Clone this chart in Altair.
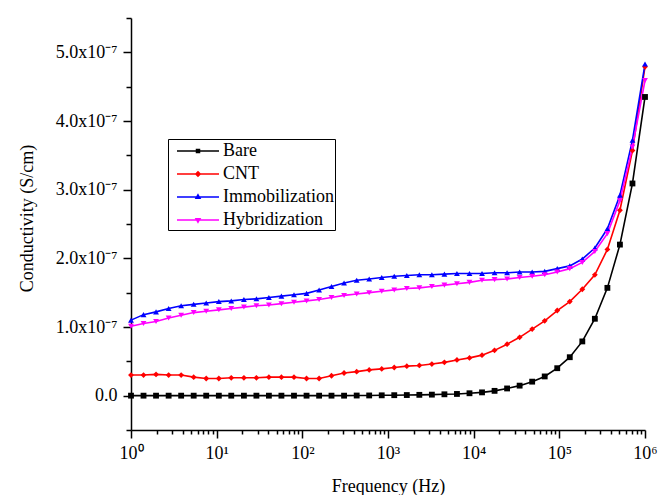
import altair as alt
import pandas as pd

series_names = ["Bare", "CNT", "Immobilization", "Hybridization"]
series_colors = ["#000000", "#FF0000", "#0000FF", "#FF00FF"]
marker_shapes = ["square", "diamond", "triangle-up", "triangle-down"]
# legend symbols: line segment plus a (nested, so it reads as filled) marker
legend_paths = [
    "M-2.1,0H2.1M-0.15,-0.15H0.15V0.15H-0.15ZM-0.07,-0.07H0.07V0.07H-0.07Z",
    "M-2.1,0H2.1M0,-0.22L0.22,0L0,0.22L-0.22,0ZM0,-0.1L0.1,0L0,0.1L-0.1,0Z",
    "M-2.1,0H2.1M0,-0.22L0.2,0.13L-0.2,0.13ZM0,-0.08L0.08,0.07L-0.08,0.07Z",
    "M-2.1,0H2.1M0,0.22L0.2,-0.13L-0.2,-0.13ZM0,0.08L0.08,-0.07L-0.08,-0.07Z",
]

frequency_hz = [1, 1.40, 1.96, 2.75, 3.85, 5.39, 7.55, 10.6, 14.8, 20.8, 29.1, 40.7,
                57.0, 79.9, 112, 157, 219, 307, 431, 603, 845, 1183, 1658, 2322, 3252,
                4555, 6380, 8937, 12518, 17534, 24559, 34400, 48184, 67490, 94534,
                132414, 185472, 259790, 363886, 509693, 713920, 1000000]

# conductivity in units of 1e-7 S/cm
bare = [0.0] * 18 + [0.002, 0.003, 0.005, 0.007, 0.009, 0.012, 0.015, 0.02, 0.025, 0.035,
                     0.048, 0.07, 0.105, 0.146, 0.204, 0.28, 0.40, 0.56, 0.79, 1.12, 1.57,
                     2.20, 3.09, 4.35]
cnt = [0.30, 0.30, 0.31, 0.30, 0.30, 0.27, 0.25, 0.25, 0.26, 0.26, 0.26, 0.27, 0.27, 0.27,
       0.25, 0.25, 0.29, 0.33, 0.35, 0.375, 0.39, 0.41, 0.43, 0.44, 0.46, 0.485, 0.52, 0.55,
       0.59, 0.66, 0.75, 0.85, 0.97, 1.09, 1.24, 1.37, 1.55, 1.76, 2.13, 2.70, 3.57, 4.79]
immobilization = [1.10, 1.18, 1.22, 1.27, 1.31, 1.33, 1.35, 1.37, 1.38, 1.40, 1.41, 1.43, 1.45, 1.47,
                  1.49, 1.54, 1.59, 1.64, 1.68, 1.70, 1.72, 1.74, 1.75, 1.76, 1.76, 1.77, 1.78, 1.78,
                  1.78, 1.79, 1.79, 1.80, 1.80, 1.81, 1.85, 1.89, 1.99, 2.15, 2.43, 2.92, 3.72, 4.83]
hybridization = [1.01, 1.05, 1.08, 1.13, 1.17, 1.21, 1.23, 1.25, 1.27, 1.29, 1.31, 1.32, 1.34, 1.36,
                 1.38, 1.40, 1.43, 1.46, 1.48, 1.50, 1.52, 1.54, 1.56, 1.57, 1.59, 1.61, 1.63, 1.65,
                 1.68, 1.69, 1.70, 1.72, 1.74, 1.76, 1.80, 1.85, 1.94, 2.10, 2.36, 2.84, 3.62, 4.59]

x_major_values = [1, 10, 100, 1000, 10000, 100000, 1000000]
x_major_labels = ["10⁰", "10¹", "10²", "10³", "10⁴", "10⁵", "10⁶"]
x_tick_values = [m * 10 ** d for d in range(6) for m in range(1, 10)] + [1000000]

y_major_values = [0, 1, 2, 3, 4, 5]
y_major_labels = ["0.0", "1.0x10⁻⁷", "2.0x10⁻⁷", "3.0x10⁻⁷", "4.0x10⁻⁷", "5.0x10⁻⁷"]
y_tick_values = [v / 2 for v in range(-1, 12)]

rows = []
for name, vals in zip(series_names, [bare, cnt, immobilization, hybridization]):
    for f, v in zip(frequency_hz, vals):
        rows.append({"Frequency": f, "Conductivity": v, "Series": name})
df = pd.DataFrame(rows)


def label_expr(values, labels):
    expr = "''"
    for v, l in reversed(list(zip(values, labels))):
        expr = f"datum.value == {v} ? '{l}' : ({expr})"
    return expr


FONT = "Liberation Serif"

x_enc = alt.X(
    "Frequency:Q",
    scale=alt.Scale(type="log", domain=[1, 1000000], nice=False),
    axis=alt.Axis(
        title="Frequency (Hz)",
        grid=False,
        values=x_tick_values,
        labelExpr=label_expr(x_major_values, x_major_labels),
        tickSize={"condition": {"test": f"indexof({x_major_values}, datum.value) >= 0", "value": 8}, "value": 4},
        labelPadding=6,
        labelOverlap=False,
        labelFlush=False,
        titleY=56,
        titleBaseline="middle",
    ),
)
y_enc = alt.Y(
    "Conductivity:Q",
    scale=alt.Scale(domain=[-0.5, 5.5], nice=False, zero=False),
    axis=alt.Axis(
        title="Conductivity (S/cm)",
        grid=False,
        values=y_tick_values,
        labelExpr=label_expr(y_major_values, y_major_labels),
        tickSize={"condition": {"test": "datum.value % 1 == 0", "value": 8}, "value": 5},
        labelPadding=6,
        labelOverlap=False,
        labelFlush=False,
        titleX=-104,
        titleY=200,
        titleBaseline="middle",
        titleAlign="center",
    ),
)

base = alt.Chart(df)

lines = base.mark_line(strokeWidth=1.6).encode(
    x=x_enc, y=y_enc,
    color=alt.Color("Series:N", scale=alt.Scale(domain=series_names, range=series_colors), legend=None),
    detail="Series:N",
)
points = base.mark_point(filled=True, size=34, opacity=1).encode(
    x=x_enc, y=y_enc,
    color=alt.Color("Series:N", scale=alt.Scale(domain=series_names, range=series_colors), legend=None),
    shape=alt.Shape("Series:N", scale=alt.Scale(domain=series_names, range=marker_shapes), legend=None),
)

leg = alt.Legend(
    title=None,
    orient="none",
    legendX=37,
    legendY=121,
    labelFont=FONT,
    labelFontSize=18,
    labelColor="black",
    symbolSize=400,
    symbolStrokeWidth=1.5,
    symbolOffset=18,
    labelOffset=14,
    padding=1,
    rowPadding=3,
    strokeColor="black",
    fillColor="white",
)
legend_layer = base.transform_filter("false").mark_point(filled=False, opacity=1, strokeWidth=1.5).encode(
    x=x_enc, y=y_enc,
    color=alt.Color("Series:N", scale=alt.Scale(domain=series_names, range=series_colors), legend=leg),
    shape=alt.Shape("Series:N", scale=alt.Scale(domain=series_names, range=legend_paths), legend=leg),
)

chart = alt.layer(lines, points, legend_layer).resolve_scale(
    shape="independent", color="independent"
).properties(
    width=514,
    height=412,
    background="white",
    autosize=alt.AutoSizeParams(type="none"),
    padding={"left": 131, "top": 18, "right": 20, "bottom": 65},
).configure_view(stroke=None).configure_axis(
    grid=False,
    domainColor="black",
    domainWidth=1.5,
    tickColor="black",
    tickWidth=1.5,
    labelFont=FONT,
    labelFontSize=18,
    labelColor="black",
    titleFont=FONT,
    titleFontSize=18,
    titleFontWeight="normal",
    titleColor="black",
)

chart.save("out.html", embed_options={"renderer": "svg", "actions": False})
